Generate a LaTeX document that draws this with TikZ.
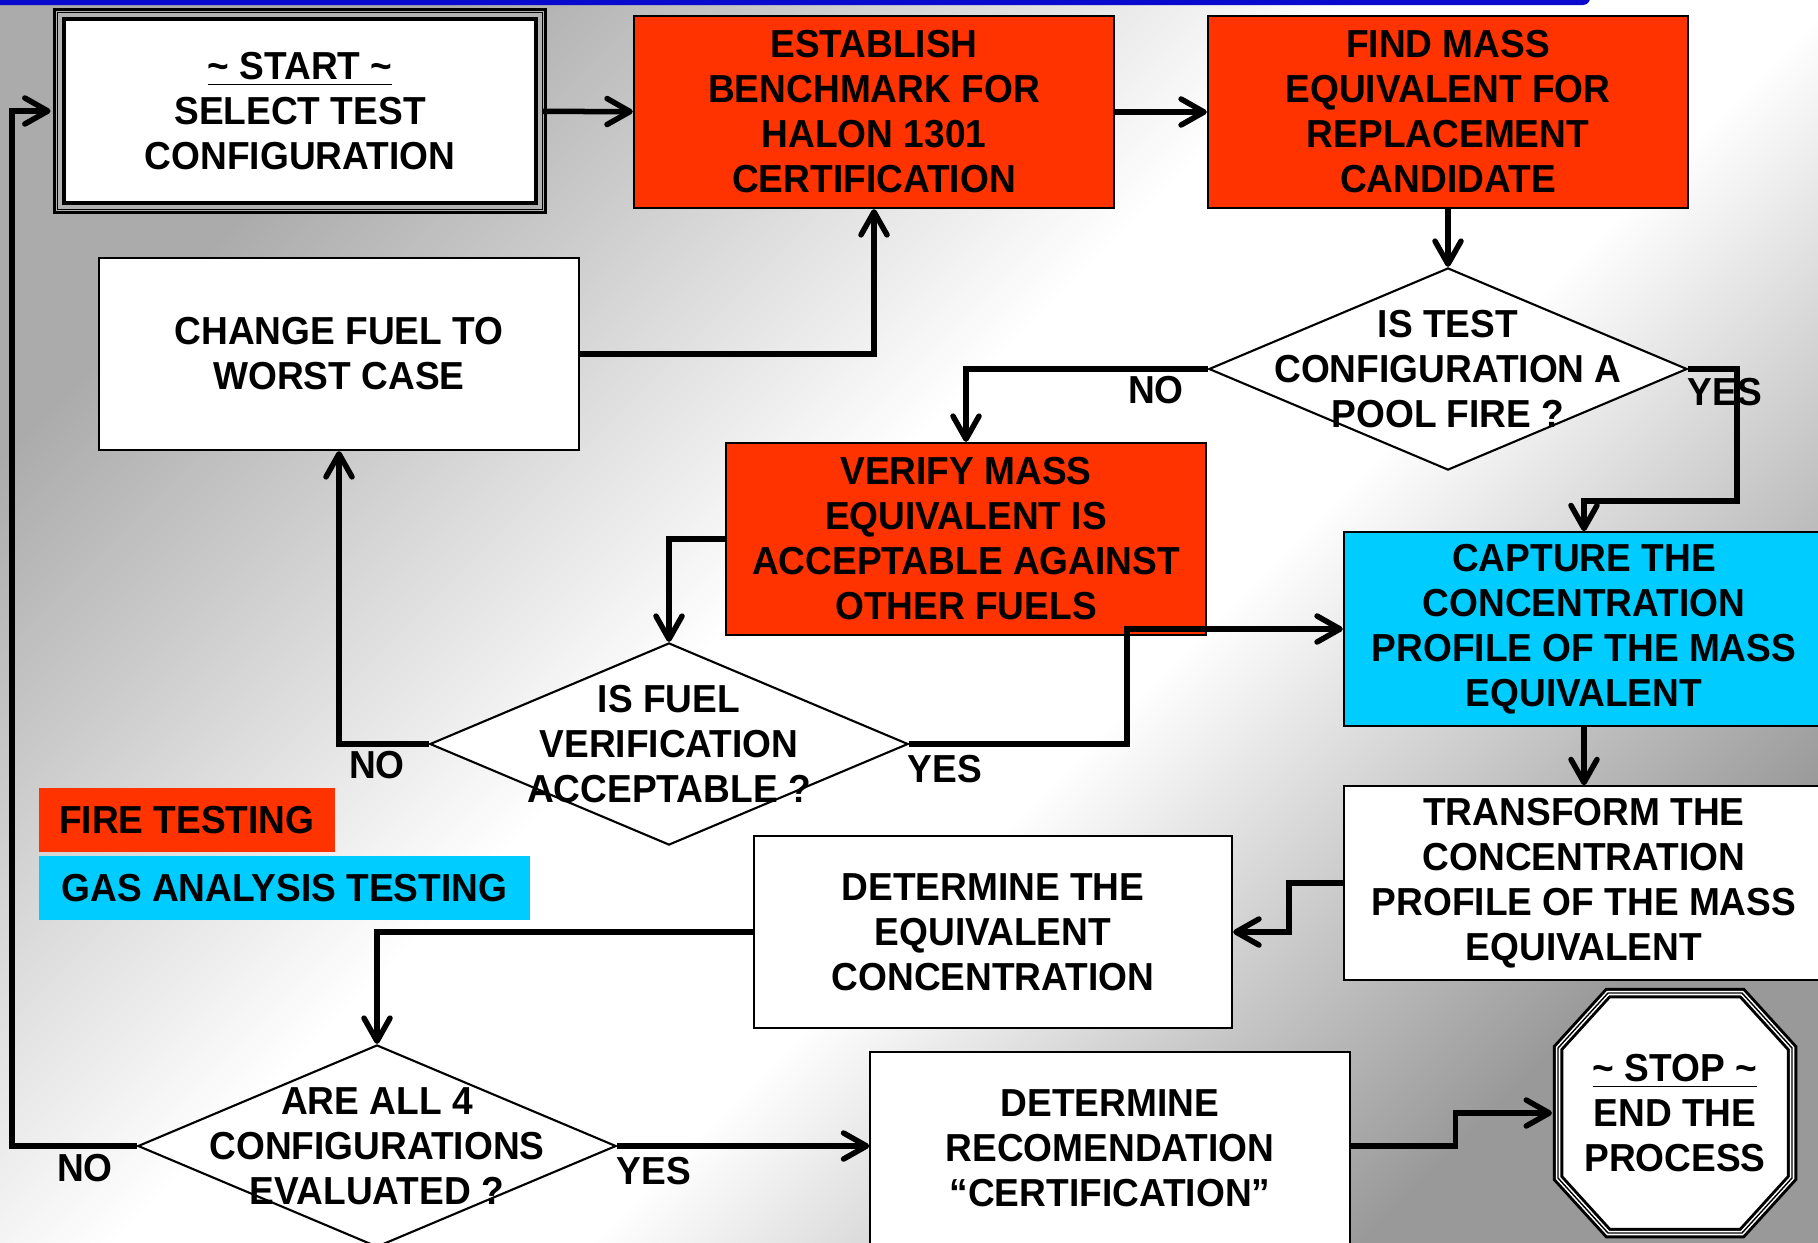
\documentclass[tikz,border=0pt]{standalone}
\usepackage{fontspec}
\setmainfont{Liberation Sans}[FakeStretch=0.95]
\usetikzlibrary{shapes.geometric,arrows.meta}
\definecolor{firered}{HTML}{FF3300}
\definecolor{gascyan}{HTML}{00CCFF}
\definecolor{bardark}{HTML}{0A0ACC}
\newcommand{\chartfont}{\fontsize{11.1pt}{12.8pt}\selectfont\bfseries}
\pgfdeclarehorizontalshading{backdrop}{100bp}{color(0bp)=(gray!66); color(25bp)=(gray!66); color(46bp)=(white); color(57bp)=(white); color(75bp)=(gray!80); color(100bp)=(gray!80)}
\tikzset{
  every node/.style={font=\chartfont, align=center},
  stepbox/.style={draw, line width=0.6pt, fill=white, minimum width=4.8cm, minimum height=1.92cm},
  firebox/.style={stepbox, fill=firered},
  gasbox/.style={stepbox, fill=gascyan},
  decision/.style={diamond, draw, line width=0.6pt, fill=white, inner sep=0pt, minimum width=4.78cm, minimum height=2.02cm},
  legend/.style={inner sep=0pt, minimum height=0.64cm},
  flow/.style={line width=0.055cm, -{Straight Barb[length=2.3mm,width=2.6mm,round]}},
}
\begin{document}
\begin{tikzpicture}[x=0.01cm,y=-0.01cm]
\useasboundingbox (0,0) rectangle (1818,1242);
\clip (0,0) rectangle (1818,1242);
\shade[shading=backdrop, shading angle=-45] (0,0) rectangle (1818,1242);
\fill[bardark, rounded corners=2] (-10,-10) rectangle (1590,5);
% boxes
\node[stepbox, minimum width=4.81cm, minimum height=1.93cm, line width=0.035cm, double=gray!60, double distance=0.06cm] (start) at (300,111) {\underline{\textasciitilde{} START \textasciitilde}\\SELECT TEST\\CONFIGURATION};
\draw[line width=0.4pt] (start.north west) rectangle (start.south east);
\node[firebox] (bench) at (874,112) {ESTABLISH\\BENCHMARK FOR\\HALON 1301\\CERTIFICATION};
\node[firebox] (mass) at (1448,112) {FIND MASS\\EQUIVALENT FOR\\REPLACEMENT\\CANDIDATE};
\node[stepbox] (fuel) at (339,354) {CHANGE FUEL TO\\WORST CASE};
\node[firebox] (verify) at (966,539) {VERIFY MASS\\EQUIVALENT IS\\ACCEPTABLE AGAINST\\OTHER FUELS};
\node[gasbox] (capture) at (1584,629) {CAPTURE THE\\CONCENTRATION\\PROFILE OF THE MASS\\EQUIVALENT};
\node[stepbox] (transform) at (1584,883) {TRANSFORM THE\\CONCENTRATION\\PROFILE OF THE MASS\\EQUIVALENT};
\node[stepbox, minimum width=4.78cm] (equiv) at (993,932) {DETERMINE THE\\EQUIVALENT\\CONCENTRATION};
\node[stepbox, minimum width=4.79cm] (recom) at (1110,1148) {DETERMINE\\RECOMENDATION\\“CERTIFICATION”};
% decisions
\node[decision] (pool) at (1448,369) {};
\node (pooltext) at (pool) {IS TEST\\CONFIGURATION A\\POOL FIRE ?};
\node[decision] (accept) at (669,744) {};
\node (accepttext) at (accept) {IS FUEL\\VERIFICATION\\ACCEPTABLE ?};
\node[decision] (all) at (377,1146) {};
\node (alltext) at (all) {ARE ALL 4\\CONFIGURATIONS\\EVALUATED ?};
% stop
\coordinate (stop) at (1675,1113);
\coordinate (stopwest) at (1552,1113);
\filldraw[fill=white, line width=0.03cm, double=white, double distance=0.045cm] (stop) ++(-117,-65) -- ++(0,130) -- ++(50,55) -- ++(134,0) -- ++(50,-55) -- ++(0,-130) -- ++(-50,-55) -- ++(-134,0) -- cycle;
\draw[line width=0.4pt] (stop) ++(-117,-65) -- ++(0,130) -- ++(50,55) -- ++(134,0) -- ++(50,-55) -- ++(0,-130) -- ++(-50,-55) -- ++(-134,0) -- cycle;
\node (stoptext) at (stop) {\underline{\textasciitilde{} STOP \textasciitilde}\\END THE\\PROCESS};
% legend
\node[legend, fill=firered, minimum width=2.96cm, anchor=west] (firekey) at (38,820) {FIRE TESTING};
\node[legend, fill=gascyan, minimum width=4.91cm, anchor=west] (gaskey) at (38,888) {GAS ANALYSIS TESTING};
% connectors
\draw[flow] (start) -- (bench);
\draw[flow] (bench) -- (mass);
\draw[flow] (mass) -- (pool);
\draw[flow] (pool.west) -| (verify.north);
\draw[flow] (pool.east) -- ++(49,0) -- ++(0,132) -| (capture.north);
\draw[flow] (verify.west) -| (accept.north);
\draw[flow] (fuel.east) -| (bench.south);
\draw[flow] (accept.west) -| (fuel.south);
\draw[flow] (accept.east) -- ++(218,0) |- (capture.west);
\draw[flow] (capture) -- (transform);
\draw[flow] (transform.west) -- ++(-54,0) |- (equiv.east);
\draw[flow] (equiv.west) -| (all.north);
\draw[flow] (all.east) -- (all.east -| recom.west);
\draw[flow] (recom.east |- all.east) -- ++(105,0) |- (stopwest);
\draw[flow, shorten >=0.07cm] (all.west) -- (12,1146) |- (start.west);
\node (no1) at (1156,390) {NO};
\node (yes1) at (1725,392) {YES};
\node (no2) at (377,765) {NO};
\node (yes2) at (945,769) {YES};
\node (yes3) at (654,1171) {YES};
\node (no3) at (85,1168) {NO};
\end{tikzpicture}
\end{document}
